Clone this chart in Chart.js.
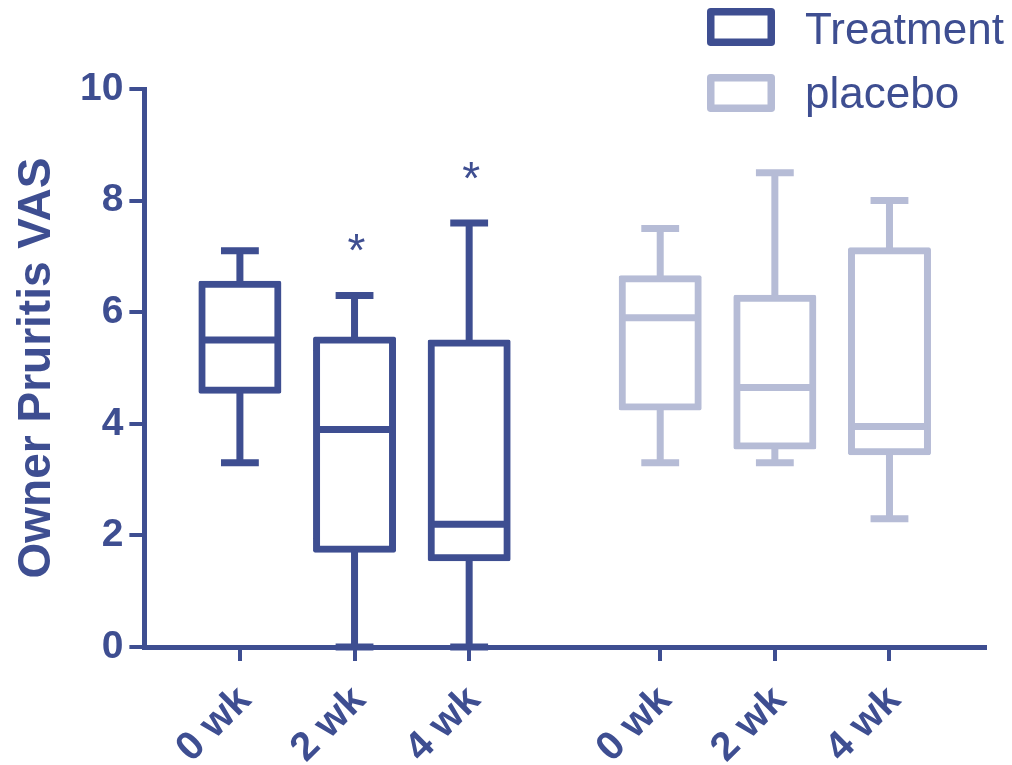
<!DOCTYPE html>
<html>
<head>
<meta charset="utf-8">
<title>Owner Pruritis VAS</title>
<script src="https://cdn.jsdelivr.net/npm/chart.js@4.4.0/dist/chart.umd.min.js"></script>
<style>
  html, body { margin: 0; padding: 0; background: #ffffff; }
  #wrap { width: 1012px; height: 765px; }
</style>
</head>
<body>
<div id="wrap"><canvas id="chart" width="1012" height="765"></canvas></div>
<script>
// Time points and study arms
const categories = ['0 wk', '2 wk', '4 wk'];
const groups = ['Treatment', 'placebo'];

// Five-number summaries per time point (min, Q1, median, Q3, max)
const treatmentMin    = [3.3, 0.0, 0.0];
const treatmentQ1     = [4.6, 1.75, 1.6];
const treatmentMedian = [5.5, 3.9, 2.2];
const treatmentQ3     = [6.5, 5.5, 5.45];
const treatmentMax    = [7.1, 6.3, 7.6];

const placeboMin    = [3.3, 3.3, 2.3];
const placeboQ1     = [4.3, 3.6, 3.5];
const placeboMedian = [5.9, 4.65, 3.95];
const placeboQ3     = [6.6, 6.25, 7.1];
const placeboMax    = [7.5, 8.5, 8.0];

// Significance markers shown above each box
const treatmentSignificance = ['', '*', '*'];
const placeboSignificance   = ['', '', ''];

// Value axis ticks
const yTicks = [0, 2, 4, 6, 8, 10];

const DARK = '#3e4e91';
const LIGHT = '#b6bcd6';
const FONT = "'Liberation Sans', Arial, sans-serif";

// Each arm occupies its own block on a numeric x axis, with a margin on both sides
const GROUP_MARGIN = 5 / 6;
const GROUP_SPAN = (categories.length - 1) + 2 * GROUP_MARGIN;
const slotOf = (g, i) => g * GROUP_SPAN + i;
const slots = [];
groups.forEach((_, g) => categories.forEach((_, i) => slots.push(slotOf(g, i))));

function boxData(g, mins, q1s, meds, q3s, maxs, sig) {
  return categories.map((_, i) => ({
    x: slotOf(g, i),
    y: [q1s[i], q3s[i]],
    min: mins[i],
    median: meds[i],
    max: maxs[i],
    sig: sig[i]
  }));
}

const BOX_LINE = 7;

const datasets = [
  {
    label: groups[0],
    data: boxData(0, treatmentMin, treatmentQ1, treatmentMedian, treatmentQ3, treatmentMax, treatmentSignificance),
    borderColor: DARK,
    backgroundColor: '#ffffff'
  },
  {
    label: groups[1],
    data: boxData(1, placeboMin, placeboQ1, placeboMedian, placeboQ3, placeboMax, placeboSignificance),
    borderColor: LIGHT,
    backgroundColor: '#ffffff'
  }
].map(d => Object.assign(d, {
  borderWidth: BOX_LINE,
  borderSkipped: false,
  borderRadius: 2,
  inflateAmount: BOX_LINE / 2,
  barThickness: 76,
  grouped: false
}));

// Whiskers, caps, medians and significance stars, placed through the chart's scales
const boxPlotExtras = {
  id: 'boxPlotExtras',
  afterDatasetsDraw(chart) {
    const ctx = chart.ctx;
    const xs = chart.scales.x;
    const ys = chart.scales.y;
    const capHalf = (xs.getPixelForValue(0.165) - xs.getPixelForValue(0));
    chart.data.datasets.forEach((ds, di) => {
      const meta = chart.getDatasetMeta(di);
      ctx.save();
      ctx.strokeStyle = ds.borderColor;
      ctx.lineWidth = BOX_LINE;
      ctx.lineCap = 'butt';
      meta.data.forEach((bar, i) => {
        const d = ds.data[i];
        const x = bar.x;
        const half = bar.width / 2;
        const pMin = ys.getPixelForValue(d.min);
        const pMax = ys.getPixelForValue(d.max);
        const pQ1 = ys.getPixelForValue(d.y[0]);
        const pQ3 = ys.getPixelForValue(d.y[1]);
        const pMed = ys.getPixelForValue(d.median);
        ctx.beginPath();
        // upper whisker and cap
        ctx.moveTo(x, pQ3); ctx.lineTo(x, pMax);
        ctx.moveTo(x - capHalf, pMax); ctx.lineTo(x + capHalf, pMax);
        // lower whisker and cap
        ctx.moveTo(x, pQ1); ctx.lineTo(x, pMin);
        ctx.moveTo(x - capHalf, pMin); ctx.lineTo(x + capHalf, pMin);
        // median
        ctx.moveTo(x - half, pMed); ctx.lineTo(x + half, pMed);
        ctx.stroke();
        if (d.sig) {
          ctx.fillStyle = DARK;
          ctx.font = '46px ' + FONT;
          ctx.textAlign = 'center';
          ctx.textBaseline = 'alphabetic';
          ctx.fillText(d.sig, x + 2, pMax - 29);
        }
      });
      ctx.restore();
    });
  }
};

// Legend stacked in the top-right corner, drawn over the plot
const cornerLegend = {
  id: 'cornerLegend',
  afterDraw(chart) {
    const ctx = chart.ctx;
    const left = chart.width - 305;
    ctx.save();
    chart.data.datasets.forEach((ds, i) => {
      const top = 8 + i * 66;
      ctx.strokeStyle = ds.borderColor;
      ctx.lineWidth = 7.5;
      ctx.lineJoin = 'round';
      ctx.strokeRect(left + 3.75, top + 3.75, 60.5, 30.5);
      ctx.fillStyle = DARK;
      ctx.font = '44px ' + FONT;
      ctx.textAlign = 'left';
      ctx.textBaseline = 'alphabetic';
      ctx.fillText(ds.label, left + 98, top + 35.5 - i * 1.5);
    });
    ctx.restore();
  }
};

new Chart(document.getElementById('chart'), {
  type: 'bar',
  data: { datasets },
  options: {
    responsive: false,
    animation: false,
    devicePixelRatio: 1,
    layout: { padding: { left: 5, right: 27, top: 89, bottom: 0 } },
    plugins: {
      legend: { display: false },
      tooltip: { enabled: false }
    },
    scales: {
      x: {
        type: 'linear',
        min: -GROUP_MARGIN,
        max: groups.length * GROUP_SPAN - GROUP_MARGIN,
        offset: false,
        afterBuildTicks: (scale) => { scale.ticks = slots.map(v => ({ value: v })); },
        afterFit: (scale) => { scale.height = 118; },
        ticks: {
          autoSkip: false,
          minRotation: 45,
          maxRotation: 45,
          padding: 16,
          labelOffset: 5,
          color: DARK,
          font: { family: FONT, size: 40, weight: 'bold' },
          callback: (value, index) => categories[index % categories.length]
        },
        grid: {
          offset: false,
          drawOnChartArea: false,
          color: DARK,
          lineWidth: 4,
          tickLength: 14
        },
        border: { display: true, color: DARK, width: 5 }
      },
      y: {
        type: 'linear',
        min: 0,
        max: 10,
        afterBuildTicks: (scale) => { scale.ticks = yTicks.map(v => ({ value: v })); },
        ticks: {
          padding: 6,
          color: DARK,
          font: { family: FONT, size: 39, weight: 'bold' }
        },
        grid: {
          drawOnChartArea: false,
          color: DARK,
          lineWidth: 4,
          tickLength: 15
        },
        border: { display: true, color: DARK, width: 5 },
        title: {
          display: true,
          text: 'Owner Pruritis VAS',
          color: DARK,
          font: { family: FONT, size: 46, weight: 'bold', lineHeight: 1 },
          padding: { top: 9, bottom: 14 }
        }
      }
    }
  },
  plugins: [boxPlotExtras, cornerLegend]
});
</script>
</body>
</html>
